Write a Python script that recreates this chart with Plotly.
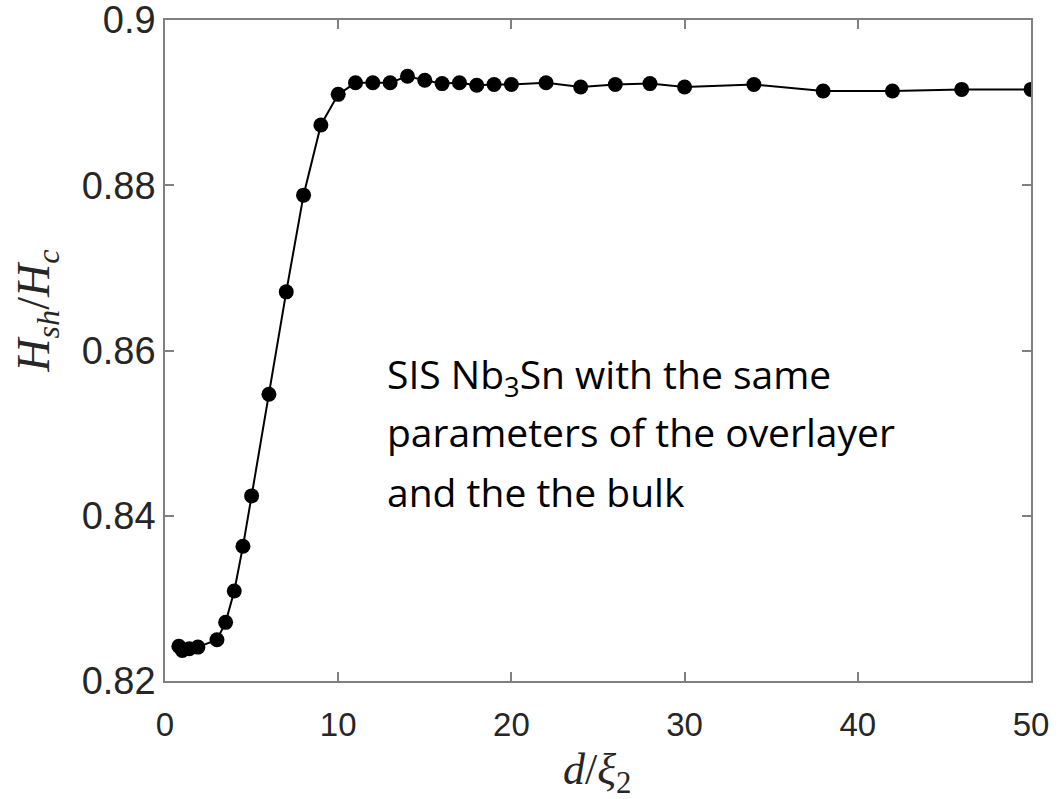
import plotly.graph_objects as go

d_xi = [0.8, 1.0, 1.4, 1.9, 3, 3.5, 4, 4.5, 5, 6, 7, 8, 9, 10, 11, 12, 13, 14, 15,
        16, 17, 18, 19, 20, 22, 24, 26, 28, 30, 34, 38, 42, 46, 50]
hsh_hc = [0.8242, 0.8237, 0.8239, 0.8241, 0.8250, 0.8271, 0.8309, 0.8363, 0.8424,
          0.8547, 0.8671, 0.8788, 0.8873, 0.8910, 0.8924, 0.8924, 0.8924, 0.8932,
          0.8927, 0.8923, 0.8924, 0.8921, 0.8922, 0.8922, 0.8924, 0.8919, 0.8922,
          0.8923, 0.8919, 0.8922, 0.8914, 0.8914, 0.8916, 0.8916]
x_ticks = [0, 10, 20, 30, 40, 50]
y_ticks = [0.82, 0.84, 0.86, 0.88, 0.9]
y_tick_text = ["0.82", "0.84", "0.86", "0.88", "0.9"]
note_lines = ["SIS Nb<sub>3</sub>Sn with the same",
              "parameters of the overlayer",
              "and the the bulk"]

fig = go.Figure()
fig.add_trace(go.Scatter(
    x=d_xi, y=hsh_hc, mode="lines+markers",
    line=dict(color="black", width=2),
    marker=dict(color="black", size=15),
    showlegend=False,
))

axis_common = dict(
    showgrid=False, zeroline=False, showline=True, linecolor="#808080",
    linewidth=1.5, mirror="ticks", ticks="inside", ticklen=9,
    tickcolor="#808080", tickwidth=1.5, ticklabeloverflow="allow",
)

serif = "Liberation Serif, DejaVu Serif"
annotations = [
    dict(xref="paper", yref="paper", x=0.499, y=-0.138, xanchor="center", yanchor="middle",
         showarrow=False, text="<i>d</i>/<i>ξ</i><sub>2</sub>",
         font=dict(family=serif, size=44, color="#262626")),
    dict(xref="paper", yref="paper", x=-0.148, y=0.56, xanchor="center", yanchor="middle",
         showarrow=False, textangle=-90,
         text="<i>H</i><sub><i>sh</i></sub>/<i>H</i><sub><i>c</i></sub>",
         font=dict(family=serif, size=46, color="#262626")),
]
line_y = [0.462, 0.378, 0.287]
for txt, yy in zip(note_lines, line_y):
    annotations.append(dict(
        xref="paper", yref="paper", x=0.254, y=yy, xanchor="left", yanchor="middle",
        align="left", showarrow=False, text=txt,
        font=dict(family="Open Sans", size=39, color="black"),
    ))

fig.update_layout(
    width=1058, height=799,
    margin=dict(l=165, r=27, t=20, b=118, autoexpand=False),
    paper_bgcolor="white", plot_bgcolor="white",
    xaxis=dict(range=[0, 50], tickvals=x_ticks, **axis_common,
               ticklabelstandoff=14,
               tickfont=dict(family="Liberation Sans, Arial", size=33, color="#262626")),
    yaxis=dict(range=[0.82, 0.9], tickvals=y_ticks, ticktext=y_tick_text, **axis_common,
               ticksuffix="\u00a0",
               tickfont=dict(family="Liberation Sans, Arial", size=38, color="#262626")),
    annotations=annotations,
)

fig.write_html("out.html")
